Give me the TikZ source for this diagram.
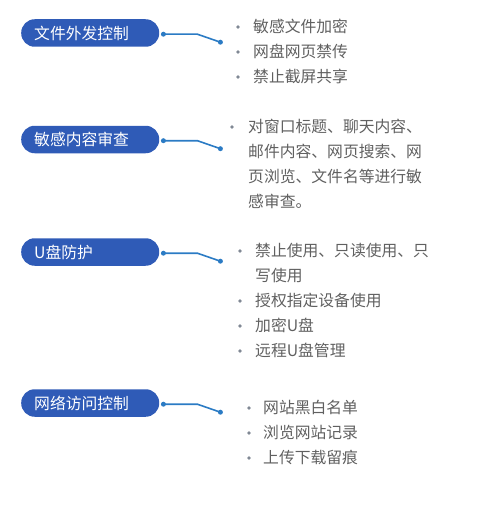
\documentclass[tikz,border=0pt]{standalone}
\usepackage{fontspec}
\setmainfont{Noto Sans CJK SC}
\usetikzlibrary{calc}
\definecolor{boxblue}{HTML}{2F5BB7}
\definecolor{linkblue}{HTML}{2B7BC4}
\definecolor{txtgray}{HTML}{606060}
\definecolor{dotgray}{HTML}{808894}
\tikzset{
  cat/.style={fill=boxblue, text=white, rounded corners=13.5pt, minimum height=27.5pt,
    text width=112pt, inner xsep=13pt, inner ysep=0pt, anchor=west, align=left,
    font=\fontsize{15.8}{18}\selectfont},
  itemtxt/.style={anchor=base west, text=txtgray, inner sep=0pt, font=\fontsize{15.8}{18}\selectfont},
  bul/.style={circle, fill=dotgray, inner sep=0pt, minimum size=3.6pt},
  link/.style={draw=linkblue, line width=1.6pt},
  ldot/.style={circle, fill=linkblue, inner sep=0pt, minimum size=5pt},
}
\begin{document}
\begin{tikzpicture}[x=1pt,y=-1pt]
\useasboundingbox (0,0) rectangle (493,508);

% category boxes
\node[cat] (c1) at (21,33) {文件外发控制};
\node[cat] (c2) at (21,139.5) {敏感内容审查};
\node[cat] (c3) at (21,252) {U盘防护};
\node[cat] (c4) at (21,403) {网络访问控制};

% connectors
\foreach \i in {1,2,3,4}{
  \coordinate (s\i) at ($(c\i.east)+(4,1.2)$);
  \coordinate (m\i) at ($(s\i)+(34,0)$);
  \coordinate (e\i) at ($(s\i)+(57,8)$);
  \draw[link] (s\i) -- (m\i) -- (e\i);
  \node[ldot] (ds\i) at (s\i) {};
  \node[ldot] (de\i) at (e\i) {};
}

% list 1
\node[bul] (b11) at (238,27) {};
\node[itemtxt] (t11) at (253,32.5) {敏感文件加密};
\node[bul] (b12) at (238,52) {};
\node[itemtxt] (t12) at (253,57.5) {网盘网页禁传};
\node[bul] (b13) at (238,77) {};
\node[itemtxt] (t13) at (253,82.5) {禁止截屏共享};

% list 2
\node[bul] (b21) at (232,127) {};
\node[itemtxt] (t21) at (248,132.5) {对窗口标题、聊天内容、};
\node[itemtxt] (t22) at (248,157.5) {邮件内容、网页搜索、网};
\node[itemtxt] (t23) at (248,182.5) {页浏览、文件名等进行敏};
\node[itemtxt] (t24) at (248,207.5) {感审查。};

% list 3
\node[bul] (b31) at (240,251) {};
\node[itemtxt] (t31) at (255,256.5) {禁止使用、只读使用、只};
\node[itemtxt] (t32) at (255,281.5) {写使用};
\node[bul] (b33) at (240,301) {};
\node[itemtxt] (t33) at (255,306.5) {授权指定设备使用};
\node[bul] (b34) at (240,326) {};
\node[itemtxt] (t34) at (255,331.5) {加密U盘};
\node[bul] (b35) at (240,351) {};
\node[itemtxt] (t35) at (255,356.5) {远程U盘管理};

% list 4
\node[bul] (b41) at (249,408) {};
\node[itemtxt] (t41) at (263,413.5) {网站黑白名单};
\node[bul] (b42) at (249,433) {};
\node[itemtxt] (t42) at (263,438.5) {浏览网站记录};
\node[bul] (b43) at (249,458) {};
\node[itemtxt] (t43) at (263,463.5) {上传下载留痕};
\end{tikzpicture}
\end{document}
